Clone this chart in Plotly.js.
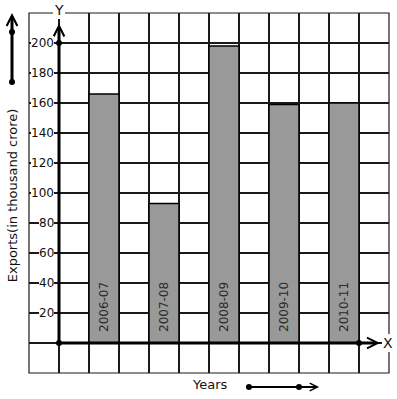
<!DOCTYPE html>
<html>
<head>
<meta charset="utf-8">
<script src="https://cdn.plot.ly/plotly-3.0.1.min.js"></script>
<style>html,body{margin:0;padding:0;background:#fff;}#chart{width:397px;height:399px;}</style>
</head>
<body>
<div id="chart"></div>
<script>
// ---- data ----
const years = ['2006-07', '2007-08', '2008-09', '2009-10', '2010-11'];
const exports = [166, 93, 198, 159, 160];
const yTickValues = [20, 40, 60, 80, 100, 120, 140, 160, 180, 200];
const yTickLabels = ['20', '40', '60', '80', '100', '120', '140', '160', '180', '200'];
const yAxisTitle = 'Exports(in thousand crore)';
const xAxisTitle = 'Years';

// ---- geometry helpers (axis units) ----
const font = 'DejaVu Sans, sans-serif';
const xPos = years.map((_, i) => i);
const originX = -0.75;           // y-axis position on the x scale
const xMin = -1.25, xMax = 4.75;
const yMin = -20, yMax = 220;
const gridX = [];
for (let v = xMin; v <= xMax + 1e-9; v += 0.5) gridX.push(v);

const traces = [
  {
    type: 'bar',
    x: xPos,
    y: exports,
    width: 0.5,
    marker: {color: '#999999', line: {color: '#000000', width: 1.5}},
    hoverinfo: 'skip'
  },
  {
    type: 'scatter',
    mode: 'markers',
    x: [originX, originX, 4.25],
    y: [0, 200, 0],
    marker: {color: '#000', size: 6},
    cliponaxis: false,
    hoverinfo: 'skip'
  }
];

const annotations = [];
// y-axis arrow
annotations.push({x: originX, y: 213, ax: originX, ay: 0, axref: 'x', ayref: 'y', xref: 'x', yref: 'y',
  text: '', showarrow: true, arrowhead: 5, arrowsize: 0.7, arrowwidth: 3, arrowcolor: '#000', standoff: 0, startstandoff: 0});
// x-axis arrow
annotations.push({x: 4.6, y: 0, ax: originX, ay: 0, axref: 'x', ayref: 'y', xref: 'x', yref: 'y',
  text: '', showarrow: true, arrowhead: 5, arrowsize: 0.7, arrowwidth: 3, arrowcolor: '#000', standoff: 0, startstandoff: 0});
// axis letters
annotations.push({x: originX, y: 1.0083, xref: 'x', yref: 'paper', text: 'Y', showarrow: false,
  bgcolor: '#fff', borderwidth: 0, font: {family: font, size: 14, color: '#111'}, xanchor: 'center', yanchor: 'middle'});
annotations.push({x: 0.997, y: 0, xref: 'paper', yref: 'y', text: 'X', showarrow: false,
  bgcolor: '#fff', borderwidth: 0, font: {family: font, size: 14, color: '#111'}, xanchor: 'center', yanchor: 'middle'});
// y tick labels
yTickValues.forEach((v, i) => {
  annotations.push({x: originX, y: v, xref: 'x', yref: 'y', text: yTickLabels[i], showarrow: false,
    xanchor: 'right', yanchor: 'middle', xshift: -5, bgcolor: '#fff', borderpad: 0, borderwidth: 0,
    font: {family: font, size: 12, color: '#111'}});
});
// bar labels
years.forEach((lab, i) => {
  annotations.push({x: xPos[i], y: 0, xref: 'x', yref: 'y', text: lab, showarrow: false, textangle: -90,
    xanchor: 'center', yanchor: 'bottom', yshift: 9, font: {family: font, size: 12, color: '#2a2a2a'}});
});
// titles
annotations.push({x: -0.047, y: 0.494, xref: 'paper', yref: 'paper', text: yAxisTitle, showarrow: false,
  textangle: -90, font: {family: font, size: 13, color: '#111'}, xanchor: 'center', yanchor: 'middle'});
annotations.push({x: 0.503, y: -0.0333, xref: 'paper', yref: 'paper', text: xAxisTitle, showarrow: false,
  font: {family: font, size: 13, color: '#111'}, xanchor: 'center', yanchor: 'middle'});
// decorative arrows (tail offsets in pixels)
annotations.push({x: -0.0472, y: 1.0, xref: 'paper', yref: 'paper', ax: 0, ay: 69, axref: 'pixel', ayref: 'pixel',
  text: '', showarrow: true, arrowhead: 5, arrowsize: 0.7, arrowwidth: 3, arrowcolor: '#000', standoff: 0, startstandoff: 0});
annotations.push({x: 0.806, y: -0.0389, xref: 'paper', yref: 'paper', ax: -70, ay: 0, axref: 'pixel', ayref: 'pixel',
  text: '', showarrow: true, arrowhead: 5, arrowsize: 0.85, arrowwidth: 1.8, arrowcolor: '#000', standoff: 0, startstandoff: 0});

function dot(px, py) {
  return {type: 'circle', xref: 'paper', yref: 'paper', xsizemode: 'pixel', ysizemode: 'pixel',
    xanchor: px, yanchor: py, x0: -3, x1: 3, y0: -3, y1: 3, fillcolor: '#000', line: {width: 0}};
}

const shapes = [
  {type: 'rect', xref: 'paper', yref: 'paper', x0: 0, x1: 1, y0: 0, y1: 1, line: {color: '#1a1a1a', width: 1.2}, layer: 'below'},
  dot(-0.0472, 0.947), dot(-0.0472, 0.808),
  dot(0.611, -0.0389), dot(0.75, -0.0389)
];

const layout = {
  width: 397, height: 399,
  margin: {l: 29, r: 8, t: 13, b: 26, pad: 0},
  paper_bgcolor: '#fff', plot_bgcolor: '#fff',
  showlegend: false,
  xaxis: {range: [xMin, xMax], tickmode: 'array', tickvals: gridX, showticklabels: false, ticks: '',
    showgrid: true, gridcolor: '#1a1a1a', gridwidth: 1.2, zeroline: false, showline: false, fixedrange: true},
  yaxis: {range: [yMin, yMax], tick0: 0, dtick: 20, showticklabels: false, ticks: '',
    showgrid: true, gridcolor: '#1a1a1a', gridwidth: 1.2, zeroline: false, showline: false, fixedrange: true},
  annotations: annotations,
  shapes: shapes,
  font: {family: font}
};

Plotly.newPlot('chart', traces, layout, {staticPlot: true, displayModeBar: false});
</script>
</body>
</html>
